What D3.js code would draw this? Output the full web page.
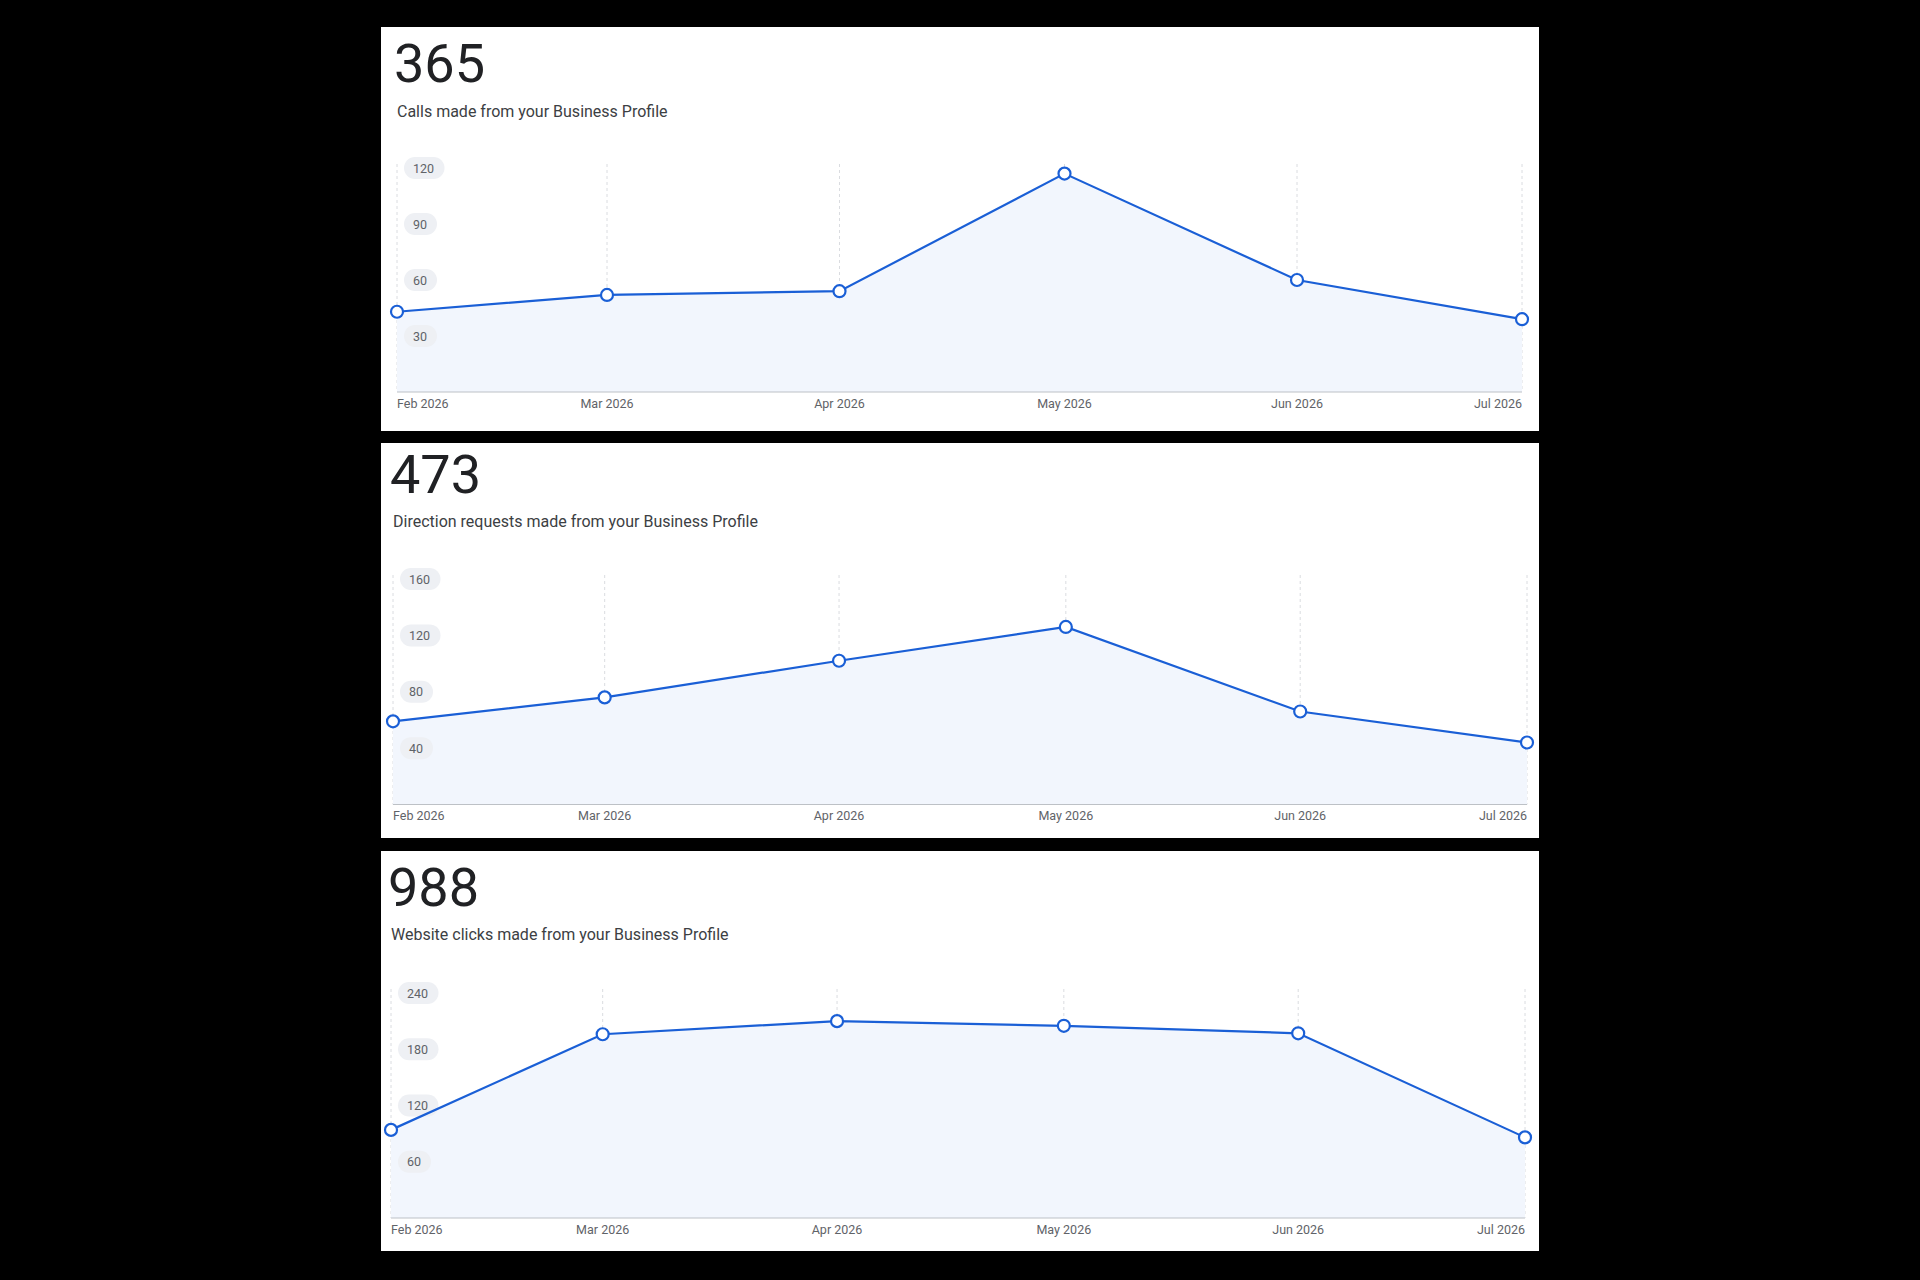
<!DOCTYPE html>
<html><head><meta charset="utf-8">
<script src="https://cdn.jsdelivr.net/npm/d3@7"></script>
<style>body{margin:0;background:#000}svg{display:block}</style>
</head><body>
<svg id="c" width="1920" height="1280"></svg>
<script>
const months = ["2026-02-01","2026-03-01","2026-04-01","2026-05-01","2026-06-01","2026-07-01"];
const monthLabels = ["Feb 2026","Mar 2026","Apr 2026","May 2026","Jun 2026","Jul 2026"];
const totals = ["365","473","988"];
const titles = ["Calls made from your Business Profile","Direction requests made from your Business Profile","Website clicks made from your Business Profile"];
const callsValues = [43,52,54,117,60,39];
const directionValues = [59,76,102,126,66,44];
const websiteValues = [94,196,210,205,197,86];
const callsTicks = [30,60,90,120];
const directionTicks = [40,80,120,160];
const websiteTicks = [60,120,180,240];

const series = [callsValues, directionValues, websiteValues];
const tickSets = [callsTicks, directionTicks, websiteTicks];
// layout per panel
const layout = [
  {top:27, h:404, x0:397, x1:1522, num:55, sub:90, yt:141, y0:365, lab:381},
  {top:443, h:395, x0:393, x1:1527, num:50, sub:84, yt:136, y0:361.5, lab:377},
  {top:851, h:400, x0:391, x1:1525, num:55, sub:89, yt:142, y0:367, lab:383}
];
const parse = d3.timeParse("%Y-%m-%d");
const dates = months.map(parse);
const svg = d3.select("#c");
const font = "Roboto, 'Noto Sans', sans-serif";

layout.forEach((L,i)=>{
  const g = svg.append("g").attr("transform",`translate(0,${L.top})`);
  g.append("rect").attr("x",381).attr("y",0).attr("width",1158).attr("height",L.h).attr("fill","#fff");
  g.append("text").attr("x",L.x0-3).attr("y",L.num).attr("font-family",font).attr("font-size",54)
    .attr("fill","#202124").text(totals[i]);
  g.append("text").attr("x",L.x0).attr("y",L.sub).attr("font-family",font).attr("font-size",16)
    .attr("fill","#3c4043").text(titles[i]);
  const ticks = tickSets[i];
  const x = d3.scaleTime().domain([dates[0],dates[5]]).range([L.x0,L.x1]);
  const y = d3.scaleLinear().domain([0,ticks[3]]).range([L.y0,L.yt]);
  // vertical dashed grid
  g.selectAll(".vg").data(dates).enter().append("line")
    .attr("x1",d=>x(d)).attr("x2",d=>x(d)).attr("y1",L.yt-4).attr("y2",L.y0)
    .attr("stroke","#dadce0").attr("stroke-dasharray","3,3");
  const vals = series[i];
  const pts = dates.map((d,k)=>[d,vals[k]]);
  g.append("path").datum(pts).attr("fill","#f2f6fd")
    .attr("d",d3.area().x(d=>x(d[0])).y0(L.y0).y1(d=>y(d[1])));
  g.append("line").attr("x1",L.x0).attr("x2",L.x1).attr("y1",L.y0).attr("y2",L.y0)
    .attr("stroke","#bdc1c6").attr("stroke-width",1);
  // y tick pills
  ticks.forEach(t=>{
    const label = String(t);
    const w = label.length*7.5+18;
    g.append("rect").attr("x",L.x0+7).attr("y",y(t)-11).attr("width",w).attr("height",22)
      .attr("rx",11).attr("fill","#eef0f4");
    g.append("text").attr("x",L.x0+16).attr("y",y(t)+4.5).attr("font-family",font).attr("font-size",12.5)
      .attr("fill","#5f6368").text(label);
  });
  // x labels
  dates.forEach((d,k)=>{
    g.append("text").attr("x",x(d)).attr("y",L.lab).attr("font-family",font).attr("font-size",12.5)
      .attr("fill","#5f6368").attr("text-anchor",k===0?"start":k===5?"end":"middle").text(monthLabels[k]);
  });
  g.append("path").datum(pts).attr("fill","none").attr("stroke","#1a5fd6").attr("stroke-width",2.2)
    .attr("d",d3.line().x(d=>x(d[0])).y(d=>y(d[1])));
  g.selectAll(".pt").data(pts).enter().append("circle")
    .attr("cx",d=>x(d[0])).attr("cy",d=>y(d[1])).attr("r",6)
    .attr("fill","#fff").attr("stroke","#1a5fd6").attr("stroke-width",2.2);
});
</script>
</body></html>
